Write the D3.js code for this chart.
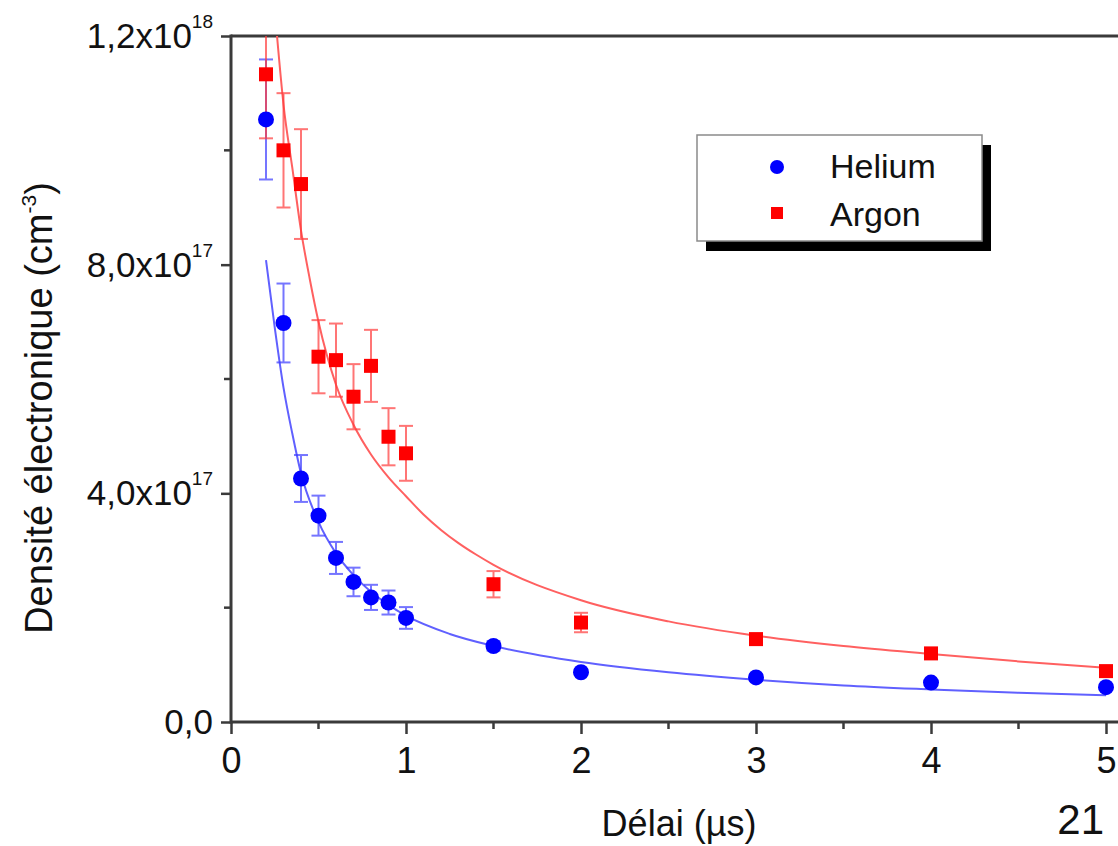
<!DOCTYPE html>
<html>
<head>
<meta charset="utf-8">
<script src="https://cdn.jsdelivr.net/npm/d3@7"></script>
<style>
  body { margin: 0; background: #fff; }
  text { font-family: "Liberation Sans", Arial, sans-serif; fill: #111; }
</style>
</head>
<body>
<div class="chart"></div>
<script>
// Data (densities in units of 1e17 cm-3)
var delays = [0.2, 0.3, 0.4, 0.5, 0.6, 0.7, 0.8, 0.9, 1, 1.5, 2, 3, 4, 5];
var helium = [10.54, 6.98, 4.26, 3.61, 2.87, 2.45, 2.18, 2.09, 1.82, 1.33, 0.87, 0.78, 0.69, 0.61];
var heliumErr = [1.05, 0.69, 0.41, 0.35, 0.28, 0.25, 0.22, 0.21, 0.19, 0.08, 0.05, 0.05, 0.04, 0.04];
var argon = [11.33, 10.0, 9.41, 6.39, 6.33, 5.69, 6.23, 4.99, 4.70, 2.41, 1.74, 1.45, 1.20, 0.89];
var argonErr = [1.12, 1.0, 0.96, 0.64, 0.64, 0.57, 0.63, 0.5, 0.48, 0.23, 0.17, 0.07, 0.05, 0.04];

// fitted curves
var heliumFitX = [0.2, 0.25, 0.3, 0.35, 0.4, 0.5, 0.6, 0.7, 0.8, 0.9, 1, 1.25, 1.5, 2, 2.5, 3, 3.5, 4, 4.5, 5];
var heliumFitY = [8.08, 6.9, 5.85, 5.05, 4.35, 3.5, 2.95, 2.57, 2.28, 2.05, 1.86, 1.54, 1.33, 1.05, 0.87, 0.74, 0.64, 0.57, 0.51, 0.47];
var argonFitX = [0.263, 0.3, 0.35, 0.4, 0.45, 0.5, 0.6, 0.7, 0.8, 0.9, 1, 1.1, 1.2, 1.3, 1.4, 1.5, 2, 2.5, 3, 3.5, 4, 4.5, 5];
var argonFitY = [12.0, 10.8, 9.7, 8.6, 7.75, 7.0, 5.9, 5.2, 4.68, 4.28, 3.95, 3.63, 3.36, 3.13, 2.93, 2.75, 2.13, 1.76, 1.51, 1.33, 1.19, 1.06, 0.95];

// tick labels
var yTicks = [0, 4e17, 8e17, 1.2e18];
var yTickMain = ["0,0", "4,0x10", "8,0x10", "1,2x10"];
var yTickExp = ["", "17", "17", "18"];
var yMinor = [2e17, 6e17, 1e18];
var xTicks = [0, 1, 2, 3, 4, 5];
var xMinor = [0.5, 1.5, 2.5, 3.5, 4.5];
var seriesNames = ["Helium", "Argon"];

var svgWidth = 1118;
var svgHeight = 846;
var margin = { top: 36, left: 231 };
var width = 1106 - margin.left;
var height = 722 - margin.top;

var svg = d3.select(".chart").append("svg")
  .attr("width", svgWidth)
  .attr("height", svgHeight);

var chartGroup = svg.append("g")
  .attr("transform", `translate(${margin.left}, ${margin.top})`);

var x = d3.scaleLinear().domain([0, 5]).range([0, width]);
var y = d3.scaleLinear().domain([0, 1.2e18]).range([height, 0]);

// clip for curves and error bars
svg.append("defs").append("clipPath").attr("id", "plotClip")
  .append("rect").attr("x", 0).attr("y", 0).attr("width", svgWidth - margin.left).attr("height", height);

// axes
var axisColor = "#3a3a3a";
var bottomAxis = d3.axisBottom(x).tickValues(xTicks).tickSize(12).tickFormat(d3.format("d"));
var xAxis = chartGroup.append("g")
  .attr("transform", `translate(0, ${height})`)
  .call(bottomAxis);
xAxis.select(".domain").remove();
xAxis.selectAll("line").attr("stroke", axisColor).attr("stroke-width", 2.5);
xAxis.selectAll("text").attr("font-size", 36).attr("dy", null).attr("y", 51).style("font-family", "Liberation Sans, Arial, sans-serif").attr("fill", "#111");
chartGroup.append("g").selectAll("line").data(xMinor).enter().append("line")
  .attr("x1", d => x(d)).attr("x2", d => x(d))
  .attr("y1", height).attr("y2", height + 7)
  .attr("stroke", axisColor).attr("stroke-width", 2.5);

var leftAxis = d3.axisLeft(y).tickValues(yTicks).tickSize(10).tickFormat("");
var yAxis = chartGroup.append("g").call(leftAxis);
yAxis.select(".domain").remove();
yAxis.selectAll("line").attr("stroke", axisColor).attr("stroke-width", 2.5);
chartGroup.append("g").selectAll("line").data(yMinor).enter().append("line")
  .attr("x1", -7).attr("x2", 0)
  .attr("y1", d => y(d)).attr("y2", d => y(d))
  .attr("stroke", axisColor).attr("stroke-width", 2.5);

// y tick labels with superscript exponents
var yLab = chartGroup.append("g").selectAll("text").data(yTicks).enter().append("text")
  .attr("x", -18)
  .attr("y", d => y(d) + 12)
  .attr("text-anchor", "end")
  .attr("font-size", 35);
yLab.append("tspan").text((d, i) => yTickMain[i]);
yLab.append("tspan").attr("font-size", 19).attr("dy", -20).text((d, i) => yTickExp[i]);

// frame lines
chartGroup.append("line").attr("x1", 0).attr("x2", svgWidth - margin.left)
  .attr("y1", height).attr("y2", height).attr("stroke", axisColor).attr("stroke-width", 3);
chartGroup.append("line").attr("x1", 0).attr("x2", svgWidth - margin.left)
  .attr("y1", 0).attr("y2", 0).attr("stroke", axisColor).attr("stroke-width", 3);
chartGroup.append("line").attr("x1", 0).attr("x2", 0)
  .attr("y1", -1.5).attr("y2", height + 1.5).attr("stroke", axisColor).attr("stroke-width", 3);

// plot layer
var plot = chartGroup.append("g");
var clipped = plot.append("g").attr("clip-path", "url(#plotClip)");

var line = d3.line().x(d => x(d[0])).y(d => y(d[1] * 1e17)).curve(d3.curveMonotoneX);
clipped.append("path")
  .datum(heliumFitX.map((v, i) => [v, heliumFitY[i]]))
  .attr("d", line).attr("fill", "none").attr("stroke", "#6060ff").attr("stroke-width", 2);
clipped.append("path")
  .datum(argonFitX.map((v, i) => [v, argonFitY[i]]))
  .attr("d", line).attr("fill", "none").attr("stroke", "#ff6060").attr("stroke-width", 2);

// error bars
function errorBars(vals, errs, color) {
  var g = clipped.append("g").attr("stroke", color).attr("stroke-width", 2).attr("opacity", 0.7);
  delays.forEach(function(d, i) {
    var top = y((vals[i] + errs[i]) * 1e17);
    var bot = y((vals[i] - errs[i]) * 1e17);
    g.append("line").attr("x1", x(d)).attr("x2", x(d)).attr("y1", top).attr("y2", bot);
    g.append("line").attr("x1", x(d) - 7).attr("x2", x(d) + 7).attr("y1", top).attr("y2", top);
    g.append("line").attr("x1", x(d) - 7).attr("x2", x(d) + 7).attr("y1", bot).attr("y2", bot);
  });
}
errorBars(helium, heliumErr, "#3b3bff");
errorBars(argon, argonErr, "#ff3b3b");

// markers
plot.append("g").selectAll("circle").data(delays).enter().append("circle")
  .attr("cx", d => x(d))
  .attr("cy", (d, i) => y(helium[i] * 1e17))
  .attr("r", 8)
  .attr("fill", "#0000ff");
plot.append("g").selectAll("rect").data(delays).enter().append("rect")
  .attr("x", d => x(d) - 7)
  .attr("y", (d, i) => y(argon[i] * 1e17) - 7)
  .attr("width", 14).attr("height", 14)
  .attr("fill", "#ff0000");

// legend
var legend = svg.append("g").attr("transform", "translate(697, 135)");
legend.append("rect").attr("x", 9).attr("y", 10).attr("width", 285).attr("height", 106).attr("fill", "#000");
legend.append("rect").attr("x", 0).attr("y", 0).attr("width", 285).attr("height", 106)
  .attr("fill", "#fff").attr("stroke", "#8a8a8a").attr("stroke-width", 1.5);
legend.append("circle").attr("cx", 80).attr("cy", 32).attr("r", 7).attr("fill", "#0000ff");
legend.append("rect").attr("x", 74).attr("y", 72).attr("width", 12).attr("height", 12).attr("fill", "#ff0000");
legend.selectAll("text.leg").data(seriesNames).enter().append("text")
  .attr("class", "leg")
  .attr("x", 133)
  .attr("y", (d, i) => 43 + i * 48)
  .attr("font-size", 34)
  .text(d => d);

// axis titles
svg.append("text")
  .attr("x", 679).attr("y", 836)
  .attr("text-anchor", "middle")
  .attr("font-size", 36)
  .text("Délai (µs)");

var yTitle = svg.append("text")
  .attr("transform", "translate(52, 408) rotate(-90)")
  .attr("text-anchor", "middle")
  .attr("font-size", 38);
yTitle.append("tspan").text("Densité électronique (cm");
yTitle.append("tspan").attr("font-size", 21).attr("dy", -16).text("-3");
yTitle.append("tspan").attr("dy", 16).text(")");

// page number
svg.append("text")
  .attr("x", 1104).attr("y", 834)
  .attr("text-anchor", "end")
  .attr("font-size", 42)
  .attr("fill", "#000")
  .text("21");
</script>
</body>
</html>
